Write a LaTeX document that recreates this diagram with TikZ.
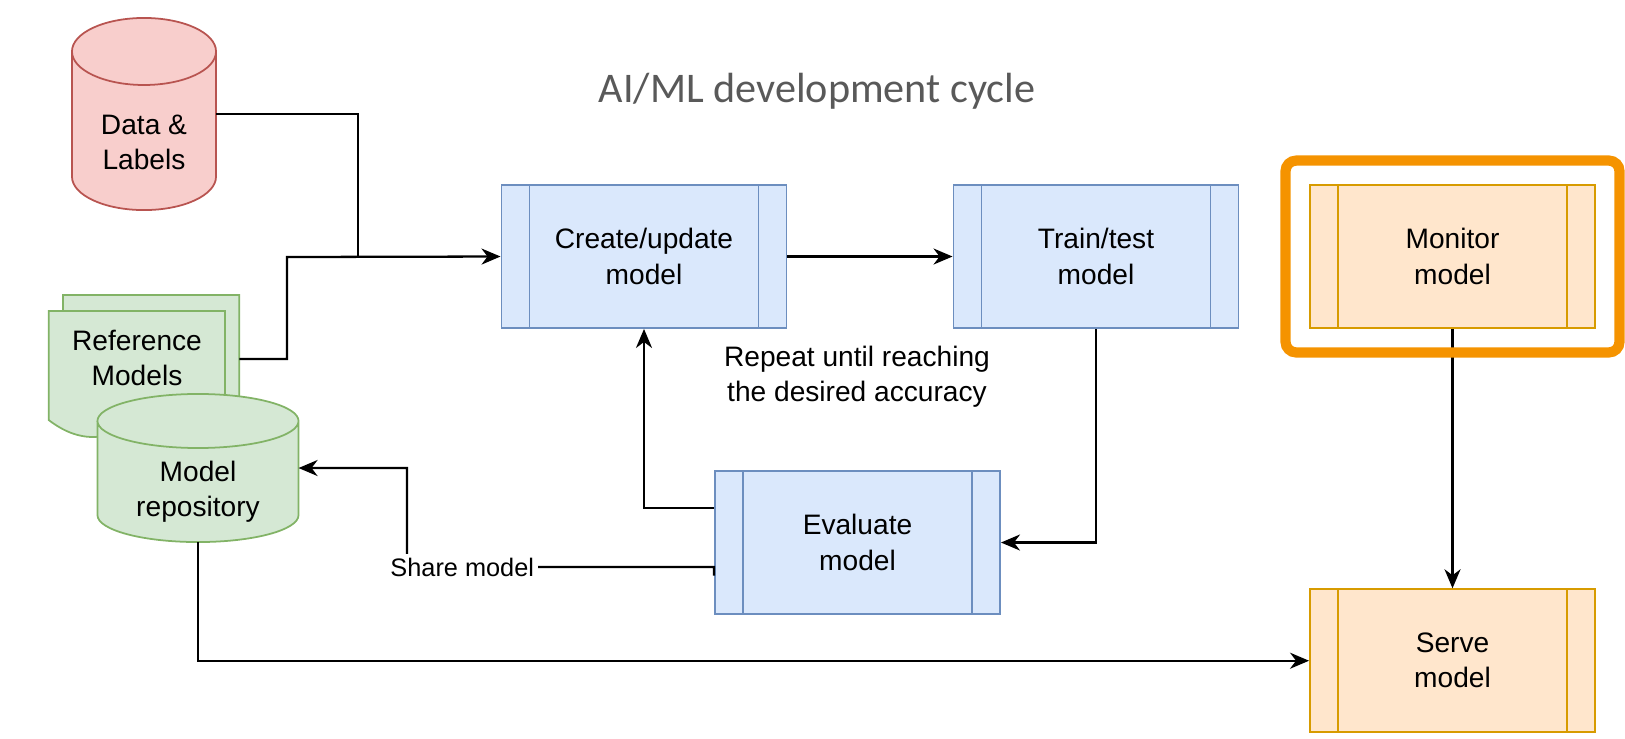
\documentclass[tikz,border=0pt]{standalone}
\usepackage{fontspec}
\setmainfont{Liberation Sans}
\newfontfamily\titlefont{Carlito}
\definecolor{bluefill}{HTML}{DAE8FC}
\definecolor{blueline}{HTML}{6C8EBF}
\definecolor{orangefill}{HTML}{FFE6CC}
\definecolor{orangeline}{HTML}{D79B00}
\definecolor{redfill}{HTML}{F8CECC}
\definecolor{redline}{HTML}{B85450}
\definecolor{greenfill}{HTML}{D5E8D4}
\definecolor{greenline}{HTML}{82B366}
\definecolor{focusorange}{HTML}{F59300}
\definecolor{titlegray}{HTML}{595959}
\newcommand{\boxfont}{\fontsize{8}{10}\selectfont}
\newcommand{\edgefont}{\fontsize{7.2}{9}\selectfont}
\newcommand{\cylshape}[4]{%
  \draw[draw=#4line, fill=#4fill, line width=0.5pt]
    ([yshift=-#3]#1.north west) -- ([yshift=#3]#1.south west)
    arc[start angle=180, end angle=360, x radius=#2, y radius=#3]
    -- ([yshift=-#3]#1.north east)
    arc[start angle=0, end angle=180, x radius=#2, y radius=#3] -- cycle
    ([yshift=-#3]#1.north west) arc[start angle=180, end angle=360, x radius=#2, y radius=#3];
}
\usetikzlibrary{positioning, fit, arrows.meta, calc}
\tikzset{
	procnode/.style={
			shape=rectangle,
			draw=#1line,
			fill=#1fill,
			line width=0.5pt,
			minimum width=2.85cm,
			minimum height=1.43cm,
			inner sep=0pt,
			align=center,
			font=\boxfont,
			path picture={
					\draw[#1line, line width=0.5pt]
						([xshift=0.28cm]path picture bounding box.north west) --
						([xshift=0.28cm]path picture bounding box.south west)
						([xshift=-0.28cm]path picture bounding box.north east) --
						([xshift=-0.28cm]path picture bounding box.south east);
				}
		},
	cylbox/.style={
			shape=rectangle,
			inner sep=0pt,
			outer sep=0pt
		},
	docshape/.style={
			draw=greenline,
			fill=greenfill,
			line width=0.5pt
		},
	celltext/.style={
			align=center,
			font=\boxfont,
			inner sep=0pt
		},
	notetext/.style={
			align=center,
			font=\boxfont,
			inner sep=0pt
		},
	edgelabel/.style={
			fill=white,
			font=\edgefont,
			inner sep=1pt
		},
	conn/.style={
			line width=0.65pt,
			draw=black
		},
	flow/.style={
			conn,
			-{Stealth[length=1.9mm, width=1.6mm, inset=0.6mm]}
		},
	highlight/.style={
			draw=focusorange,
			line width=2.9pt,
			rounded corners=3pt,
			inner xsep=0.235cm,
			inner ysep=0.235cm
		},
	titletext/.style={
			font=\titlefont\fontsize{12}{14}\selectfont,
			text=titlegray,
			inner sep=0pt
		}
}

\begin{document}
\begin{tikzpicture}[x=0.01cm, y=-0.01cm]
  \useasboundingbox (0,0) rectangle (1625,738);

  \node[titletext] (title) at (817,91) {AI/ML development cycle};

  \node[cylbox, minimum width=1.44cm, minimum height=1.92cm] (data) at (144,114) {};
  \cylshape{data}{0.72cm}{0.335cm}{red}
  \node[celltext] (datatext) at (144,142) {Data \&\\Labels};

  \draw[docshape] (63,295) -- (239.3,295) -- (239.3,404) .. controls (209.9,380.7) and (180.6,380.7) .. (151.2,404) .. controls (121.8,426.7) and (92.5,426.7) .. (63,404) -- cycle;
  \draw[docshape] (48.7,311) -- (225,311) -- (225,420) .. controls (195.7,396.7) and (166.3,396.7) .. (137,420) .. controls (107.7,442.7) and (78.2,442.7) .. (48.7,420) -- cycle;
  \node[celltext] (refmod) at (137,358) {Reference\\Models};
  \coordinate (refout) at (239.3,359);

  \node[cylbox, minimum width=2.01cm, minimum height=1.48cm] (repo) at (198,468) {};
  \cylshape{repo}{1.005cm}{0.27cm}{green}
  \node[celltext] (repotext) at (198,492) {Model\\repository};

  \node[procnode=blue] (create) at (644,256.5) {Create/update\\model};
  \node[procnode=blue] (train) at (1096,256.5) {Train/test\\model};
  \node[procnode=orange] (monitor) at (1452.5,256.5) {Monitor\\model};
  \node[procnode=blue] (evaluate) at (857.5,542.5) {Evaluate\\model};
  \node[procnode=orange] (serve) at (1452.5,660.7) {Serve\\model};

  \node[notetext] (repeat) at (857,377) {Repeat until reaching\\the desired accuracy};

  \coordinate (datajoin) at (358,257);
  \coordinate (refbend) at (287,257);
  \coordinate (sharebend) at (407,567);

  \draw[conn] (data.east) -| (datajoin);
  \draw[flow] (refout) -| (refbend) -- (create.west);
  \draw[flow] (create.east) -- (train.west);
  \draw[flow] (train.south) |- (evaluate.east);
  \draw[flow] ([yshift=0.345cm]evaluate.west) -| (create.south);
  \draw[flow] ([yshift=-0.33cm]evaluate.west) -- ([yshift=-0.245cm]evaluate.west) -- (sharebend) node[edgelabel, pos=0.82] (sharelbl) {Share model} |- (repo.east);
  \draw[flow] (repo.south) |- (serve.west);
  \draw[flow] (monitor) -- (serve);

  \node[highlight, fit=(monitor)] (focus) {};
\end{tikzpicture}
\end{document}
